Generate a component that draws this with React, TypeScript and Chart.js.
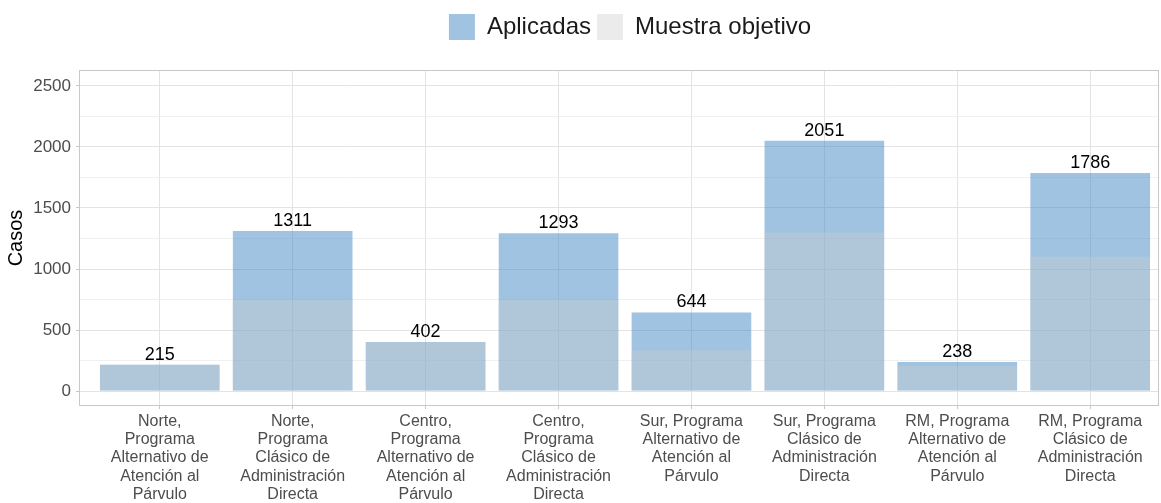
import React, { useEffect, useRef } from "react";
import { Chart, registerables } from "chart.js";

Chart.register(...registerables);

const categories: string[][] = [
  ["Norte,", "Programa", "Alternativo de", "Atención al", "Párvulo"],
  ["Norte,", "Programa", "Clásico de", "Administración", "Directa"],
  ["Centro,", "Programa", "Alternativo de", "Atención al", "Párvulo"],
  ["Centro,", "Programa", "Clásico de", "Administración", "Directa"],
  ["Sur, Programa", "Alternativo de", "Atención al", "Párvulo"],
  ["Sur, Programa", "Clásico de", "Administración", "Directa"],
  ["RM, Programa", "Alternativo de", "Atención al", "Párvulo"],
  ["RM, Programa", "Clásico de", "Administración", "Directa"],
];
const aplicadas: number[] = [215, 1311, 402, 1293, 644, 2051, 238, 1786];
const muestraObjetivo: number[] = [215, 750, 402, 750, 335, 1300, 205, 1100];
const yTicks: number[] = [0, 250, 500, 750, 1000, 1250, 1500, 1750, 2000, 2250, 2500];

const FONT = "'Liberation Sans', Arial, Helvetica, sans-serif";

export default function App() {
  const ref = useRef<HTMLCanvasElement | null>(null);

  useEffect(() => {
    if (!ref.current) return;
    const valueLabels = {
      id: "valueLabels",
      afterDatasetsDraw(chart: any) {
        const ctx = chart.ctx;
        const meta = chart.getDatasetMeta(1);
        ctx.save();
        ctx.font = `18px ${FONT}`;
        ctx.fillStyle = "#000000";
        ctx.textAlign = "center";
        ctx.textBaseline = "bottom";
        meta.data.forEach((bar: any, i: number) => {
          ctx.fillText(String(aplicadas[i]), bar.x, bar.y - 1);
        });
        ctx.restore();
      },
    };
    const panelBorder = {
      id: "panelBorder",
      afterDraw(chart: any) {
        const { left, top, right, bottom } = chart.chartArea;
        const ctx = chart.ctx;
        ctx.save();
        ctx.strokeStyle = "#c8c8c8";
        ctx.lineWidth = 1;
        ctx.strokeRect(Math.round(left) - 0.5, Math.round(top) - 0.5, Math.round(right - left) + 1, Math.round(bottom - top) + 1);
        ctx.restore();
      },
    };
    const legendShift = {
      id: "legendShift",
      afterLayout(chart: any) {
        const lg = chart.legend;
        if (lg) {
          lg.left += 51;
          lg.right += 51;
          lg.top -= 21;
          lg.bottom -= 21;
        }
      },
    };

    const chart = new Chart(ref.current, {
      type: "bar",
      data: {
        datasets: [
          {
            label: "Muestra objetivo",
            data: muestraObjetivo.map((v, i) => ({ x: i, y: v })),
            backgroundColor: "rgba(202,202,202,0.38)",
            borderWidth: 0,
            grouped: false,
            barPercentage: 0.9,
            categoryPercentage: 1,
          },
          {
            label: "Aplicadas",
            data: aplicadas.map((v, i) => ({ x: i, y: v })),
            backgroundColor: "rgba(65,135,197,0.5)",
            borderWidth: 0,
            grouped: false,
            barPercentage: 0.9,
            categoryPercentage: 1,
          },
        ],
      } as any,
      options: {
        animation: false,
        responsive: false,
        devicePixelRatio: 1,
        layout: { padding: { top: 29, right: 3, left: 0, bottom: 0 } },
        plugins: {
          tooltip: { enabled: false },
          legend: {
            position: "top",
            reverse: true,
            labels: {
              boxWidth: 26,
              boxHeight: 26,
              padding: 6,
              color: "#1a1a1a",
              font: { size: 24, family: FONT },
            },
          },
        },
        scales: {
          x: {
            type: "linear",
            offset: false,
            min: -0.6,
            max: 7.51,
            afterBuildTicks: (axis: any) => {
              axis.ticks = categories.map((_, i) => ({ value: i }));
            },
            afterFit: (scale: any) => {
              scale.height = 98;
            },
            border: { display: false },
            grid: {
              offset: false,
              color: "#e3e3e3",
              lineWidth: 1,
              drawTicks: true,
              tickLength: 4,
              tickColor: "#c8c8c8",
            },
            ticks: {
              autoSkip: false,
              maxRotation: 0,
              minRotation: 0,
              padding: 3,
              color: "#4d4d4d",
              font: { size: 16, family: FONT, lineHeight: 1.15 },
              callback: (v: any) => categories[Math.round(Number(v))] ?? "",
            },
          },
          y: {
            type: "linear",
            min: -114,
            max: 2622,
            afterBuildTicks: (axis: any) => {
              axis.ticks = yTicks.map((v) => ({ value: v }));
            },
            afterFit: (scale: any) => {
              scale.width = 80;
            },
            border: { display: false },
            title: {
              display: true,
              text: "Casos",
              color: "#000000",
              font: { size: 20, family: FONT },
              padding: { top: 4, bottom: 0 },
            },
            grid: {
              color: (c: any) => (c.tick && c.tick.value % 500 === 0 ? "#e3e3e3" : "#f0f0f0"),
              lineWidth: 1,
              drawTicks: true,
              tickLength: 4,
              tickColor: (c: any) => (c.tick && c.tick.value % 500 === 0 ? "#c8c8c8" : "rgba(0,0,0,0)"),
            },
            ticks: {
              padding: 5,
              color: "#4d4d4d",
              font: { size: 17, family: FONT },
              callback: (v: any) => (Number(v) % 500 === 0 ? String(v) : ""),
            },
          },
        },
      } as any,
      plugins: [valueLabels, panelBorder, legendShift],
    });
    return () => chart.destroy();
  }, []);

  return (
    <div style={{ position: "absolute", left: 0, top: 0, width: 1161, height: 503, background: "#ffffff" }}>
      <canvas ref={ref} width={1161} height={503} />
    </div>
  );
}
